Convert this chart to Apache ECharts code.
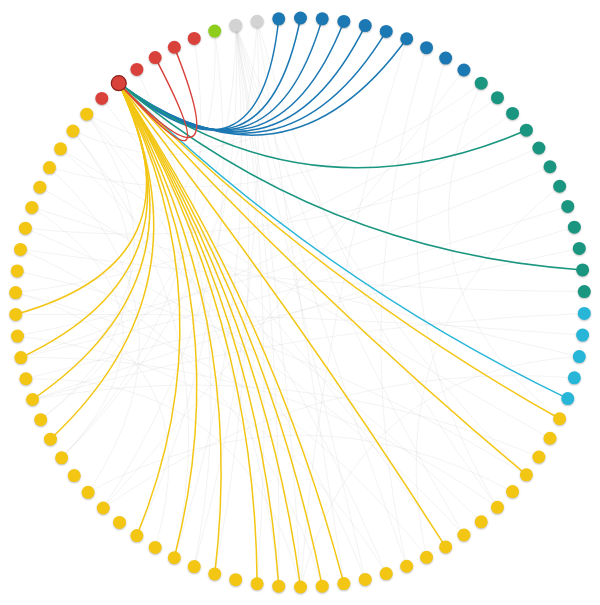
<!DOCTYPE html>
<html>
<head>
<meta charset="UTF-8">
<script src="https://cdn.jsdelivr.net/npm/echarts@6/dist/echarts.min.js"></script>
<style>
  html, body { margin: 0; padding: 0; background: #fff; }
  #main { width: 600px; height: 605px; }
</style>
</head>
<body>
<div id="main"></div>
<script>
    // group of every node, clockwise starting at the right (3 o'clock)
    var groupNames = ['cyan', 'yellow', 'red', 'lime', 'gray', 'blue', 'green'];
    var groupColors = ['#27b6d8', '#f3c614', '#d9423b', '#8fcd1d', '#d3d3d3', '#1b78b3', '#1a9680'];
    var groupCounts = [5, 46, 6, 1, 2, 10, 12];

    // index of the focused node (red, upper left)
    var focusNode = 52;
    // nodes linked to the focused node
    var focusTargets = [60, 61, 62, 63, 64, 65, 66, 73, 80, 4,
        5, 8, 13, 18, 19, 20, 21, 22, 24, 26, 28, 34, 36, 38, 40,
        54, 55];
    // background links between other nodes
    var otherLinks = [
        [58, 20], [58, 22], [58, 24], [58, 26], [58, 12], [58, 15], [58, 30], [58, 8], [58, 35],
        [59, 18], [59, 25], [59, 10], [59, 33], [58, 21], [58, 17], [57, 28], [57, 40],
        [66, 20], [67, 15], [68, 10], [69, 30], [70, 5], [72, 38], [74, 44], [76, 14], [78, 36],
        [1, 40], [2, 45], [3, 30], [6, 48], [7, 36], [8, 42], [10, 38], [11, 46],
        [12, 44], [13, 50], [14, 41], [16, 39], [17, 48], [19, 43], [20, 37], [21, 50],
        [26, 49], [27, 41], [31, 47], [33, 45], [35, 49], [36, 50], [37, 79], [38, 77],
        [39, 75], [41, 71], [43, 81], [47, 70], [49, 62], [50, 64], [51, 16], [53, 25],
        [56, 33], [0, 36], [2, 20], [9, 31]
    ];

    var nodes = [];
    var cat = [];
    groupCounts.forEach(function (n, g) {
        for (var i = 0; i < n; i++) cat.push(g);
    });
    cat.forEach(function (g, i) {
        var isFocus = i === focusNode;
        nodes.push({
            id: String(i),
            name: groupNames[g] + ' ' + i,
            category: g,
            symbolSize: isFocus ? 15 : 13,
            itemStyle: isFocus ? { borderColor: '#8a1f1a', borderWidth: 1.2 } :
                { shadowColor: 'rgba(0,0,0,0.25)', shadowBlur: 2, shadowOffsetY: 1 }
        });
    });

    var links = [];
    otherLinks.forEach(function (p) {
        links.push({ source: String(p[0]), target: String(p[1]),
            lineStyle: { color: '#cccccc', opacity: 0.3, width: 0.8 } });
    });
    focusTargets.forEach(function (t) {
        links.push({ source: String(focusNode), target: String(t),
            lineStyle: { color: groupColors[cat[t]], opacity: 1, width: 1.5 } });
    });

    var chart = echarts.init(document.getElementById('main'));
    chart.setOption({
        animation: false,
        series: [{
            type: 'graph',
            layout: 'circular',
            left: 14, right: 14, top: 18, bottom: 18,
            data: nodes,
            links: links,
            categories: groupNames.map(function (n, g) {
                return { name: n, itemStyle: { color: groupColors[g] } };
            }),
            label: { show: false },
            lineStyle: { curveness: 0.2 }
        }]
    });
</script>
</body>
</html>
